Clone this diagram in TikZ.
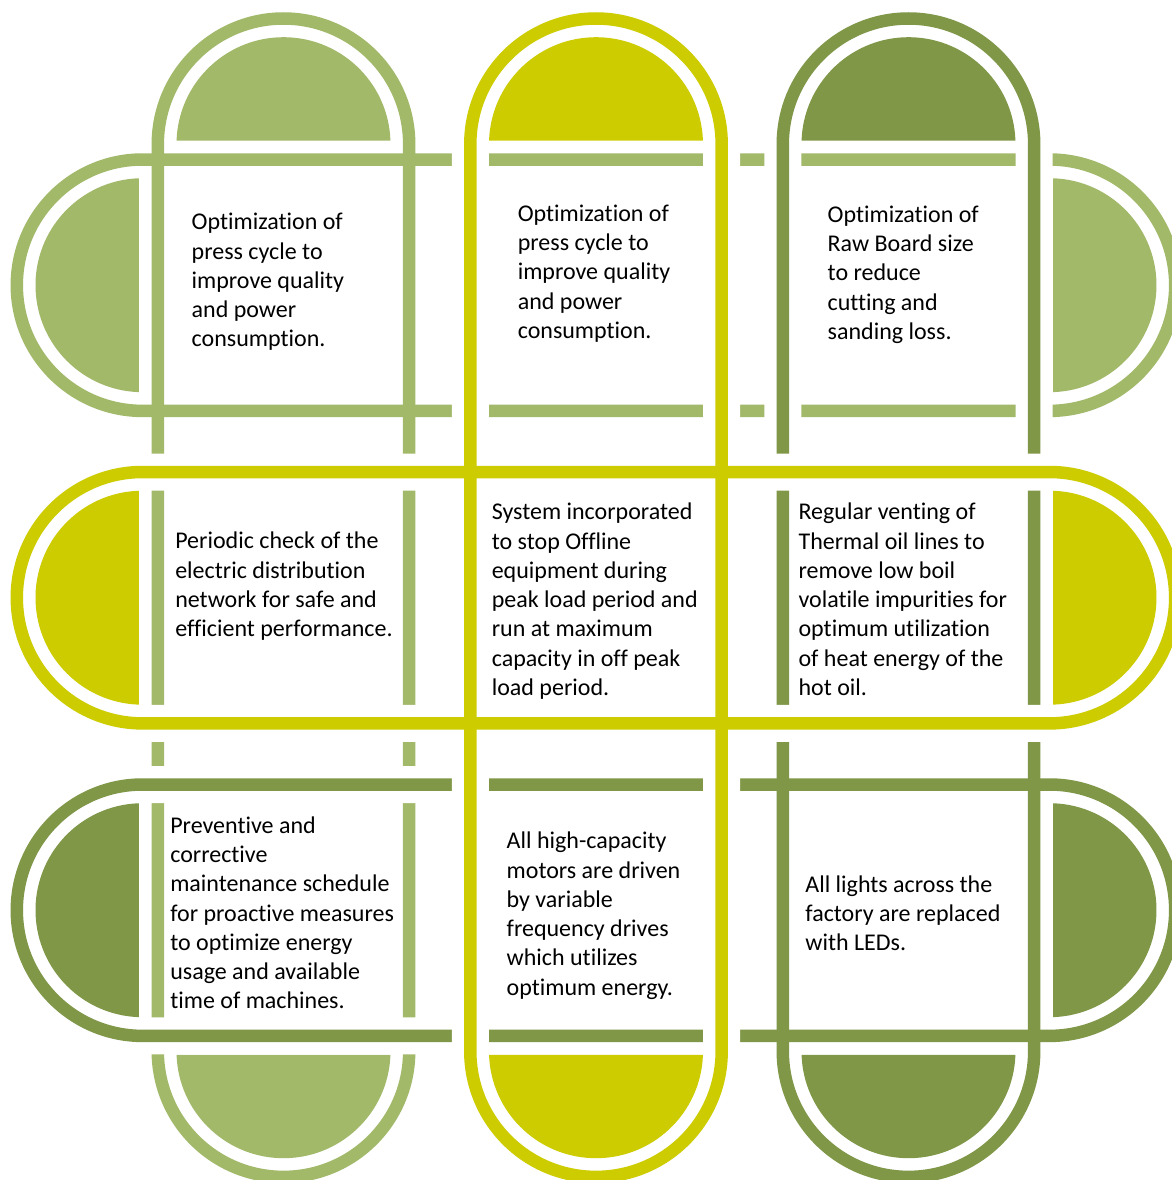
\documentclass[tikz,border=0pt]{standalone}
\usepackage{fontspec}
\setmainfont{Carlito}[Ligatures=NoCommon]

\definecolor{fieldgreen}{HTML}{A2B96A}
\definecolor{mossgreen}{HTML}{7F9747}
\definecolor{limegreen}{HTML}{CCCC00}

\begin{document}
\begin{tikzpicture}[
  x=0.5pt,
  y=0.5pt,
  bandline/.style={
    draw=#1,
    line width=6.25pt
  },
  bandgap/.style={
    draw=white,
    line width=18.5pt
  },
  note/.style={
    anchor=north west,
    inner sep=0pt,
    align=left,
    font=\fontsize{12}{14.65}\selectfont
  }
]

\useasboundingbox (-596,-582.3) rectangle (576,597.7);
\clip (-596,-582.3) rectangle (576,597.7);

% half width of a band, centre of its end arcs, radius of the end discs
\newcommand{\bandhw}{125.7}
\newcommand{\bandtip}{453.5}
\newcommand{\discr}{107}

\newcommand{\colband}[2]{%
  \draw[#2] ({#1-\bandhw},-\bandtip) -- ({#1-\bandhw},\bandtip)
    arc[start angle=180,end angle=0,radius=\bandhw]
    -- ({#1+\bandhw},-\bandtip)
    arc[start angle=0,end angle=-180,radius=\bandhw] -- cycle;
}
\newcommand{\rowband}[2]{%
  \draw[#2] (-\bandtip,{#1+\bandhw}) -- (\bandtip,{#1+\bandhw})
    arc[start angle=90,end angle=-90,radius=\bandhw]
    -- (-\bandtip,{#1-\bandhw})
    arc[start angle=270,end angle=90,radius=\bandhw] -- cycle;
}
\newcommand{\capdiscs}[3]{%
  \fill[#3] (#1,\bandtip) ++(1.9:\discr)
    arc[start angle=1.9,end angle=178.1,radius=\discr] -- cycle;
  \fill[#3] (#1,-\bandtip) ++(-1.9:\discr)
    arc[start angle=-1.9,end angle=-178.1,radius=\discr] -- cycle;
  \fill[#3] (-\bandtip,#2) ++(91.9:\discr)
    arc[start angle=91.9,end angle=268.1,radius=\discr] -- cycle;
  \fill[#3] (\bandtip,#2) ++(88.1:\discr)
    arc[start angle=88.1,end angle=-88.1,radius=\discr] -- cycle;
}

% lowest colour first, each one cut by the white gap of the next
\foreach \cx/\cy/\col in {-312.5/312.5/fieldgreen, 312.5/-312.5/mossgreen, 0/0/limegreen} {
  \colband{\cx}{bandgap}
  \rowband{\cy}{bandgap}
  \colband{\cx}{bandline=\col}
  \rowband{\cy}{bandline=\col}
  \capdiscs{\cx}{\cy}{\col}
}

\node[note] (t11) at (-404.7,388.9) {\strut Optimization of\\press cycle to\\improve quality\\and power\\consumption.};
\node[note] (t12) at (-78.6,397.5) {\strut Optimization of\\press cycle to\\improve quality\\and power\\consumption.};
\node[note] (t13) at (231.3,396.5) {\strut Optimization of\\Raw Board size\\to reduce\\cutting and\\sanding loss.};

\node[note] (t21) at (-421.1,69.9) {\strut Periodic check of the\\electric distribution\\network for safe and\\efficient performance.};
\node[note] (t22) at (-104.6,98.9) {\strut System incorporated\\to stop Offline\\equipment during\\peak load period and\\run at maximum\\capacity in off peak\\load period.};
\node[note] (t23) at (202.2,98.9) {\strut Regular venting of\\Thermal oil lines to\\remove low boil\\volatile impurities for\\optimum utilization\\of heat energy of the\\hot oil.};

\node[note] (t31) at (-426.1,-214.5) {\strut Preventive and\\corrective\\maintenance schedule\\for proactive measures\\to optimize energy\\usage and available\\time of machines.};
\node[note] (t32) at (-89.7,-230.1) {\strut All high-capacity\\motors are driven\\by variable\\frequency drives\\which utilizes\\optimum energy.};
\node[note] (t33) at (209,-273.5) {\strut All lights across the\\factory are replaced\\with LEDs.};

\end{tikzpicture}
\end{document}
